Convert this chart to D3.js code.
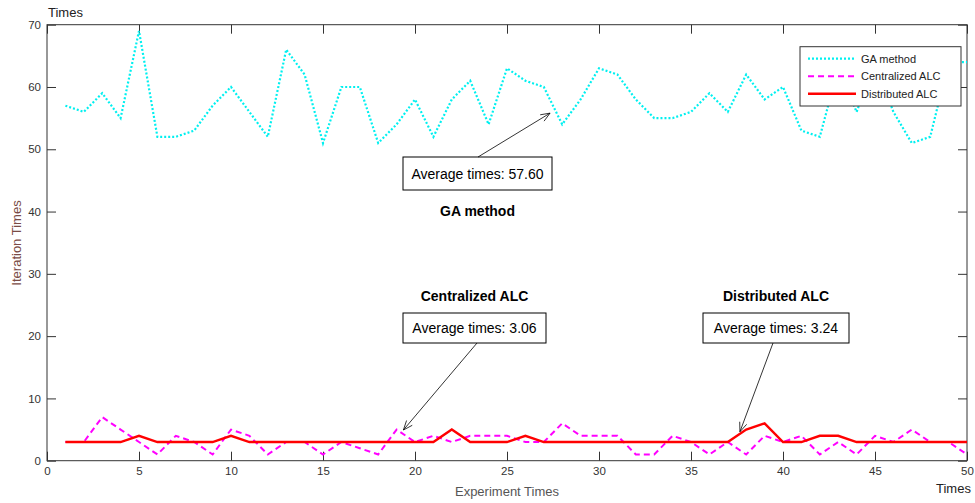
<!DOCTYPE html>
<html lang="en">
<head>
<meta charset="UTF-8">
<title>Iteration Times</title>
<style>
  body { margin: 0; background: #fff; }
  svg text { font-family: "Liberation Sans", Arial, sans-serif; }
</style>
</head>
<body>
<svg id="chart" width="975" height="503"></svg>
<script src="https://cdn.jsdelivr.net/npm/d3@7"></script>
<script>
// ---- data ----
var runs = d3.range(1, 51);
var gaMethod = [57, 56, 59, 55, 69, 52, 52, 53, 57, 60,
                56, 52, 66, 62, 51, 60, 60, 51, 54, 58,
                52, 58, 61, 54, 63, 61, 60, 54, 58, 63,
                62, 58, 55, 55, 56, 59, 56, 62, 58, 60,
                53, 52, 63, 56, 64, 56, 51, 52, 64, 64];
var centralized = [3, 3, 7, 5, 3, 1, 4, 3, 1, 5,
                   4, 1, 3, 3, 1, 3, 2, 1, 5, 3,
                   4, 3, 4, 4, 4, 3, 3, 6, 4, 4,
                   4, 1, 1, 4, 3, 1, 3, 1, 4, 3,
                   4, 1, 3, 1, 4, 3, 5, 3, 3, 1];
var distributed = [3, 3, 3, 3, 4, 3, 3, 3, 3, 4,
                   3, 3, 3, 3, 3, 3, 3, 3, 3, 3,
                   3, 5, 3, 3, 3, 4, 3, 3, 3, 3,
                   3, 3, 3, 3, 3, 3, 3, 5, 6, 3,
                   3, 4, 4, 3, 3, 3, 3, 3, 3, 3];
var seriesNames = ["GA method", "Centralized ALC", "Distributed ALC"];
var xTicks = d3.range(0, 51, 5);
var yTicks = d3.range(0, 71, 10);

// ---- layout ----
var svg = d3.select("#chart");
var plotL = 47, plotR = 967, plotT = 24.7, plotB = 460.7;
var x = d3.scaleLinear().domain([0, 50]).range([plotL, plotR]);
var y = d3.scaleLinear().domain([0, 70]).range([plotB, plotT]);
var axisColor = "#333";

var styles = [
  { color: "#00f0f0", width: 2.2, dash: "2,2" },
  { color: "#ff00ff", width: 2, dash: "6,4" },
  { color: "#ff0000", width: 2.4, dash: null }
];

// axes: ticks inward on all four sides
function styleAxis(g) {
  g.select(".domain").remove();
  g.selectAll(".tick line").attr("stroke", axisColor);
  g.selectAll(".tick text").attr("fill", "#333").style("font-size", "11.5px")
    .style("font-family", '"Liberation Sans", Arial, sans-serif');
}
svg.append("g").attr("transform", "translate(0," + plotB + ")")
  .call(d3.axisBottom(x).tickValues(xTicks).tickSizeInner(-9).tickSizeOuter(0).tickPadding(6))
  .call(styleAxis);
svg.append("g").attr("transform", "translate(0," + plotT + ")")
  .call(d3.axisTop(x).tickValues(xTicks).tickSizeInner(-9).tickSizeOuter(0).tickFormat(""))
  .call(styleAxis);
svg.append("g").attr("transform", "translate(" + plotL + ",0)")
  .call(d3.axisLeft(y).tickValues(yTicks).tickSizeInner(-9).tickSizeOuter(0).tickPadding(6))
  .call(styleAxis);
svg.append("g").attr("transform", "translate(" + plotR + ",0)")
  .call(d3.axisRight(y).tickValues(yTicks).tickSizeInner(-9).tickSizeOuter(0).tickFormat(""))
  .call(styleAxis);

svg.append("rect")
  .attr("x", plotL).attr("y", plotT)
  .attr("width", plotR - plotL).attr("height", plotB - plotT)
  .attr("fill", "none").attr("stroke", axisColor).attr("stroke-width", 1);

// lines
var line = d3.line().x(function (d) { return x(d[0]); }).y(function (d) { return y(d[1]); });
[gaMethod, centralized, distributed].forEach(function (vals, i) {
  svg.append("path")
    .datum(runs.map(function (r, j) { return [r, vals[j]]; }))
    .attr("d", line)
    .attr("fill", "none")
    .attr("stroke", styles[i].color)
    .attr("stroke-width", styles[i].width)
    .attr("stroke-dasharray", styles[i].dash);
});

// axis titles
svg.append("text").attr("x", 48).attr("y", 17).style("font-size", "13px").attr("fill", "#222").text("Times");
svg.append("text").attr("x", 936).attr("y", 493).style("font-size", "13px").attr("fill", "#222").text("Times");
svg.append("text").attr("x", 507).attr("y", 496).attr("text-anchor", "middle")
  .style("font-size", "13px").attr("fill", "#555").text("Experiment Times");
svg.append("text").attr("transform", "translate(21,243) rotate(-90)").attr("text-anchor", "middle")
  .style("font-size", "13px").attr("fill", "#7a4b45").text("Iteration Times");

// annotations
var notes = [
  { title: "GA method", text: "Average times: " + d3.format(".2f")(d3.mean(gaMethod)),
    box: [403, 157, 149, 33], titleY: 216, from: [478, 157], tip: [27.34, 55.8] },
  { title: "Centralized ALC", text: "Average times: " + d3.format(".2f")(d3.mean(centralized)),
    box: [403, 313, 143, 30], titleY: 301, from: [477, 343], tip: [19.37, 4.93] },
  { title: "Distributed ALC", text: "Average times: " + d3.format(".2f")(d3.mean(distributed)),
    box: [703, 313, 146, 30], titleY: 301, from: [773, 343], tip: [37.66, 4.65] }
];
notes.forEach(function (n) {
  var bx = n.box[0], by = n.box[1], bw = n.box[2], bh = n.box[3];
  svg.append("rect").attr("x", bx).attr("y", by).attr("width", bw).attr("height", bh)
    .attr("fill", "#fff").attr("stroke", "#000").attr("stroke-width", 1);
  svg.append("text").attr("x", bx + bw / 2).attr("y", by + bh / 2 + 5).attr("text-anchor", "middle")
    .style("font-size", "14px").attr("fill", "#000").text(n.text);
  svg.append("text").attr("x", bx + bw / 2).attr("y", n.titleY).attr("text-anchor", "middle")
    .style("font-size", "14px").style("font-weight", "bold").attr("fill", "#000").text(n.title);
  var tx = x(n.tip[0]), ty = y(n.tip[1]);
  var ang = Math.atan2(ty - n.from[1], tx - n.from[0]);
  var len = 10, spread = 0.38;
  svg.append("line").attr("x1", n.from[0]).attr("y1", n.from[1]).attr("x2", tx).attr("y2", ty)
    .attr("stroke", "#000").attr("stroke-width", 0.8);
  svg.append("path")
    .attr("d", "M" + (tx - len * Math.cos(ang - spread)) + "," + (ty - len * Math.sin(ang - spread)) +
      "L" + tx + "," + ty +
      "L" + (tx - len * Math.cos(ang + spread)) + "," + (ty - len * Math.sin(ang + spread)))
    .attr("fill", "none").attr("stroke", "#000").attr("stroke-width", 0.8);
});

// legend
var lg = svg.append("g").attr("transform", "translate(800,46.7)");
lg.append("rect").attr("width", 161).attr("height", 59.3)
  .attr("fill", "#fff").attr("stroke", "#333").attr("stroke-width", 1);
seriesNames.forEach(function (name, i) {
  var ry = 12 + i * 17.5;
  lg.append("line").attr("x1", 8).attr("x2", 56).attr("y1", ry).attr("y2", ry)
    .attr("stroke", styles[i].color).attr("stroke-width", styles[i].width)
    .attr("stroke-dasharray", styles[i].dash);
  lg.append("text").attr("x", 61).attr("y", ry + 4).style("font-size", "11px")
    .attr("fill", "#222").text(name);
});
</script>
</body>
</html>
